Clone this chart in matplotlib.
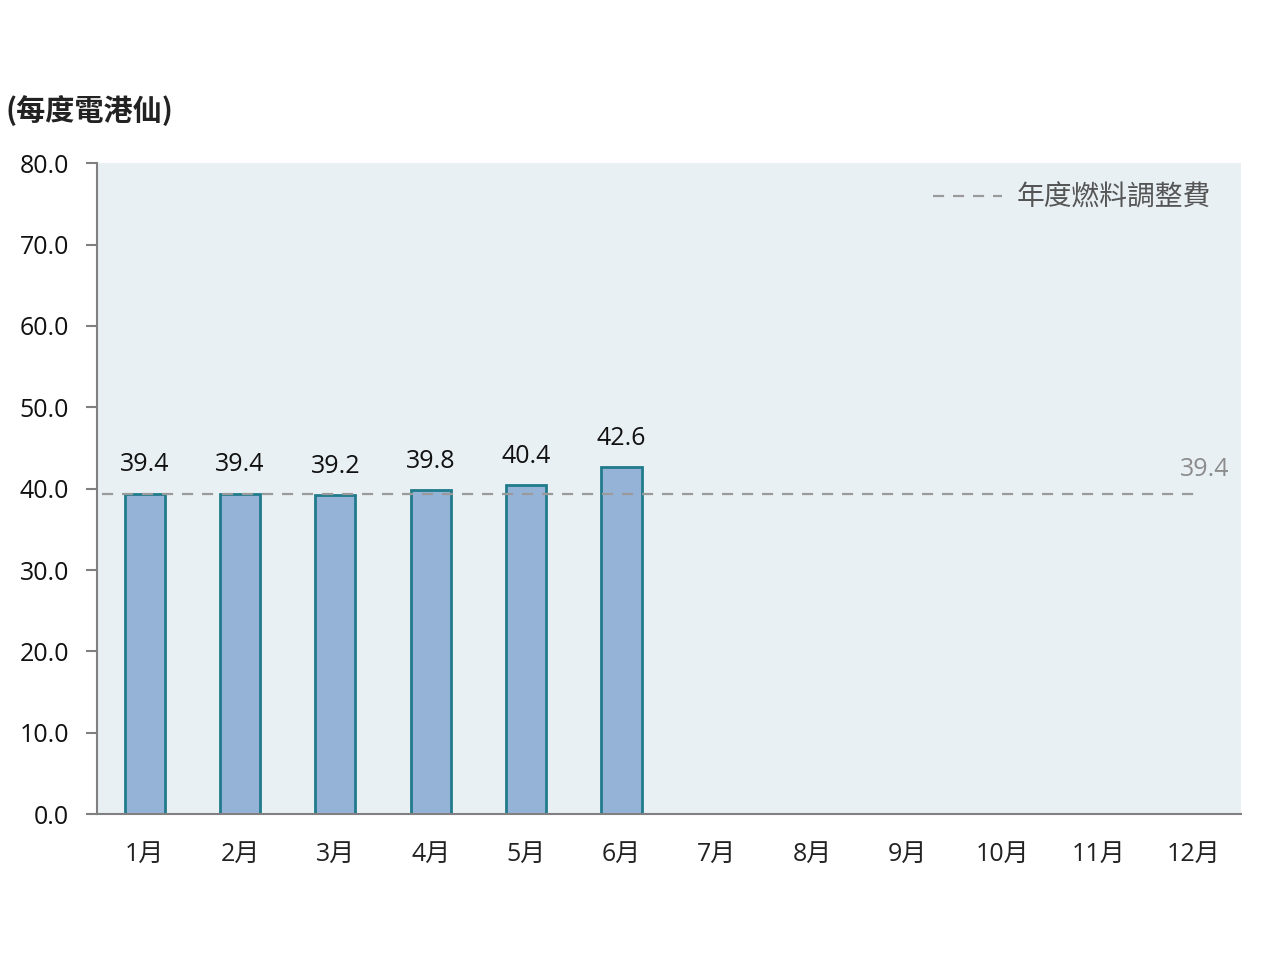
import matplotlib
matplotlib.use('Agg')
import matplotlib.pyplot as plt
from matplotlib.lines import Line2D

plt.rcParams['font.family'] = ['Open Sans', 'Noto Sans CJK TC', 'DejaVu Sans']

# 數據
months = ['1月', '2月', '3月', '4月', '5月', '6月', '7月', '8月', '9月', '10月', '11月', '12月']
values = [39.4, 39.4, 39.2, 39.8, 40.4, 42.6]
annual_rate = 39.4
yticks = [0, 10, 20, 30, 40, 50, 60, 70, 80]

fig = plt.figure(figsize=(12.8, 9.6), dpi=100)
ax = fig.add_axes([0.0758, 0.152, 0.894, 0.678])
ax.set_facecolor('#E9F0F4')

x = list(range(len(months)))
bars = ax.bar(x[:len(values)], values, width=0.42, color='#95B3D7',
              edgecolor='#217B8A', linewidth=2, zorder=2)
for xi, v in zip(x, values):
    ax.text(xi, v + 2.0, f'{v:.1f}', ha='center', va='bottom', fontsize=18, color='#111111')

ax.plot([-0.45, 11.05], [annual_rate, annual_rate], linestyle=(0, (5, 4)),
        color='#9A9A9A', linewidth=1.6, zorder=3)
ax.text(11.12, annual_rate + 1.4, f'{annual_rate:.1f}', ha='center', va='bottom',
        fontsize=18, color='#8C8C8C')

ax.set_xlim(-0.5, 11.5)
ax.set_ylim(0, 80)
ax.set_xticks(x)
ax.set_xticklabels(months, fontsize=18, color='#222222')
ax.set_yticks(yticks)
ax.set_yticklabels([f'{t:.1f}' for t in yticks], fontsize=18, color='#111111')
ax.tick_params(axis='x', length=0, pad=20)
ax.tick_params(axis='y', length=8, width=1.5, color='#808080', pad=12)

for s in ['top', 'right']:
    ax.spines[s].set_visible(False)
ax.spines['left'].set_color('#808080')
ax.spines['left'].set_linewidth(1.5)
ax.spines['bottom'].set_color('#808080')
ax.spines['bottom'].set_linewidth(1.5)

handle = Line2D([0], [0], linestyle=(0, (5, 4)), color='#9A9A9A', linewidth=1.6)
leg = ax.legend([handle], ['年度燃料調整費'], loc='upper right', frameon=False,
                fontsize=20, handlelength=2.5, handletextpad=0.5,
                bbox_to_anchor=(0.995, 1.005))
for t in leg.get_texts():
    t.set_color('#555555')

fig.text(0.004, 0.885, '(每度電港仙)', fontsize=21, fontweight='bold',
         family=['Noto Sans CJK TC', 'DejaVu Sans'],
         color='#222222', ha='left', va='center')

fig.savefig('out.png', dpi=100)
